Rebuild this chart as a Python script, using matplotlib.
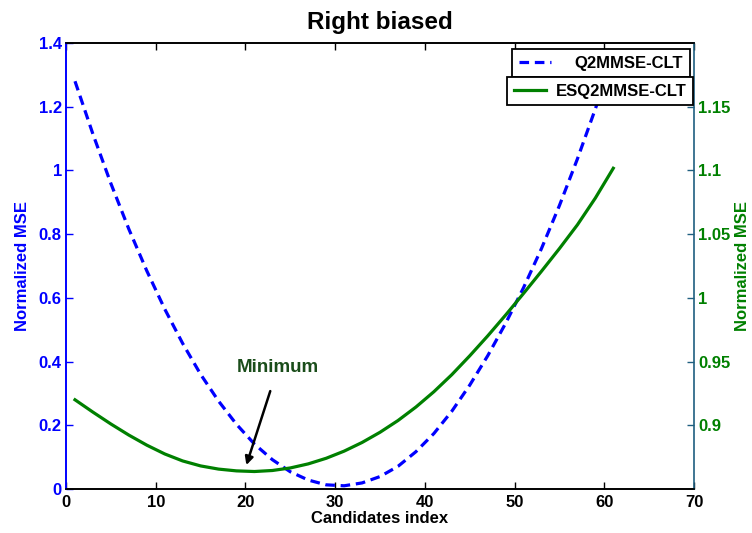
import matplotlib
matplotlib.use("Agg")
import matplotlib.pyplot as plt
from matplotlib.lines import Line2D

plt.rcParams['font.family'] = ['Liberation Sans', 'DejaVu Sans']
plt.rcParams['font.weight'] = 'bold'

# Candidate index grid and the two normalized MSE curves
candidates = [1, 3, 5, 7, 9, 11, 13, 15, 17, 19, 21, 23, 25, 27, 29, 31,
              33, 35, 37, 39, 41, 43, 45, 47, 49, 51, 53, 55, 57, 59, 61]
q2mmse_clt = [1.280, 1.114, 0.959, 0.816, 0.685, 0.565, 0.457, 0.360,
              0.276, 0.203, 0.141, 0.092, 0.054, 0.028, 0.013, 0.010,
              0.019, 0.039, 0.071, 0.117, 0.174, 0.244, 0.326, 0.418,
              0.520, 0.632, 0.755, 0.890, 1.036, 1.193, 1.360]
esq2mmse_clt = [0.9200, 0.9103, 0.9010, 0.8923, 0.8844, 0.8775, 0.8720,
                0.8681, 0.8656, 0.8642, 0.8637, 0.8645, 0.8665, 0.8697,
                0.8741, 0.8797, 0.8865, 0.8945, 0.9037, 0.9143, 0.9263,
                0.9397, 0.9545, 0.9701, 0.9865, 1.0035, 1.0209, 1.0387,
                1.0573, 1.0783, 1.1017]

x_ticks = [0, 10, 20, 30, 40, 50, 60, 70]
left_ticks = [0, 0.2, 0.4, 0.6, 0.8, 1.0, 1.2, 1.4]
left_labels = ['0', '0.2', '0.4', '0.6', '0.8', '1', '1.2', '1.4']
right_ticks = [0.9, 0.95, 1.0, 1.05, 1.1, 1.15]
right_labels = ['0.9', '0.95', '1', '1.05', '1.1', '1.15']

BLUE = '#0000ff'
GREEN = '#008000'
TEAL = '#1f5f80'
DASH = (0, (3.0, 1.8))

fig = plt.figure(figsize=(7.52, 5.33), dpi=100)
ax1 = fig.add_axes([0.0878, 0.0826, 0.8351, 0.8367])
ax2 = ax1.twinx()

ax1.plot(candidates, q2mmse_clt, color=BLUE, lw=2.3, ls=DASH)
ax2.plot(candidates, esq2mmse_clt, color=GREEN, lw=2.3)

ax1.set_xlim(0, 70)
ax1.set_ylim(0, 1.4)
ax2.set_ylim(0.85, 1.2)

ax1.set_xticks(x_ticks)
ax1.set_xticklabels([str(t) for t in x_ticks], fontsize=12, fontweight='bold')
ax1.set_yticks(left_ticks)
ax1.set_yticklabels(left_labels, fontsize=12, fontweight='bold', color=BLUE)
ax2.set_yticks(right_ticks)
ax2.set_yticklabels(right_labels, fontsize=12, fontweight='bold', color=GREEN)

ax1.tick_params(axis='x', direction='in', length=5, width=1, top=True, pad=4)
ax1.tick_params(axis='y', direction='in', length=5, width=1, colors=BLUE, pad=3)
ax2.tick_params(axis='y', direction='in', length=5, width=1, colors=TEAL,
                labelcolor=GREEN, pad=3)
for lbl in ax1.get_yticklabels():
    lbl.set_color(BLUE)
for lbl in ax2.get_yticklabels():
    lbl.set_color(GREEN)

for ax in (ax1, ax2):
    for s in ax.spines.values():
        s.set_linewidth(1.2)
ax2.spines['top'].set_color('black')
ax2.spines['bottom'].set_color('black')
ax2.spines['left'].set_color(BLUE)
ax2.spines['right'].set_color(TEAL)
ax1.spines['left'].set_color(BLUE)
ax1.spines['right'].set_visible(False)

ax1.set_xlabel('Candidates index', fontsize=12, fontweight='bold', labelpad=1)
ax1.set_ylabel('Normalized MSE', fontsize=12, fontweight='bold', color=BLUE,
               labelpad=6)
ax2.set_ylabel('Normalized MSE', fontsize=12, fontweight='bold', color=GREEN,
               labelpad=3)
ax1.set_title('Right biased', fontsize=17.5, fontweight='bold', pad=10)

ax1.annotate('Minimum', xy=(20.1, 0.075), xytext=(23.6, 0.38),
             fontsize=13.5, fontweight='bold', color='#1a4d1a',
             ha='center', va='center',
             arrowprops=dict(arrowstyle='-|>', color='black', lw=1.8,
                             mutation_scale=12, shrinkA=9, shrinkB=0))

# Separate legend boxes for the two axes
h1 = Line2D([], [], color=BLUE, lw=2.3, ls=DASH)
h2 = Line2D([], [], color=GREEN, lw=2.3)
leg1 = fig.legend([h1], ['Q2MMSE-CLT'], loc='upper right',
                  bbox_to_anchor=(690 / 752, 1 - 49 / 533), borderaxespad=0,
                  fancybox=False, edgecolor='black', framealpha=1,
                  prop=dict(size=12, weight='bold'), handlelength=1.9,
                  handletextpad=1.45, borderpad=0.4)
leg1.get_frame().set_linewidth(1.3)
leg2 = fig.legend([h2], ['ESQ2MMSE-CLT'], loc='upper right',
                  bbox_to_anchor=(693 / 752, 1 - 77 / 533), borderaxespad=0,
                  fancybox=False, edgecolor='black', framealpha=1,
                  prop=dict(size=12, weight='bold'), handlelength=1.9,
                  handletextpad=0.6, borderpad=0.4)
leg2.get_frame().set_linewidth(1.3)

fig.savefig('out.png', dpi=100)
